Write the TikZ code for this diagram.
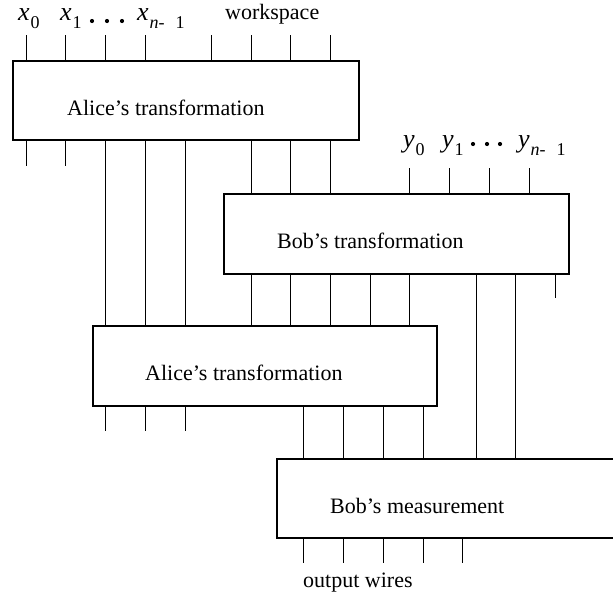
\documentclass[tikz,border=0pt]{standalone}
\usepackage{fontspec}
\setmainfont{Liberation Serif}
\newcommand\subs[1]{\raisebox{-8pt}{\fontsize{18}{18}\selectfont #1}}
\newcommand\var[1]{{\fontsize{26}{26}\selectfont\itshape #1}}
\begin{document}
\begin{tikzpicture}[x=1pt,y=-1pt,
  box/.style={draw, line width=2pt, rectangle, inner sep=0pt, anchor=north west},
  wire/.style={line width=1pt},
  lbl/.style={inner sep=0pt, anchor=base west, font=\fontsize{22}{26}\selectfont},
  dotmark/.style={fill, circle, inner sep=0pt, minimum size=4.2pt}]
\useasboundingbox (0,0) rectangle (613,595);
\clip (0,0) rectangle (613,595);
% boxes
\node[box, minimum width=346pt, minimum height=79pt] (A1) at (12,60) {};
\node[box, minimum width=345pt, minimum height=80pt] (B1) at (223,193) {};
\node[box, minimum width=344pt, minimum height=80pt] (A2) at (92,325) {};
\node[box, minimum width=350pt, minimum height=79pt] (M) at (276,458) {};
% box texts
\node[lbl] (tA1) at (67,115) {Alice's transformation};
\node[lbl] (tB1) at (277,248) {Bob's transformation};
\node[lbl] (tA2) at (145,380) {Alice's transformation};
\node[lbl] (tM) at (330,513) {Bob's measurement};
\node[lbl] (tout) at (303,587) {output wires};
% input labels
\node[lbl] (x0) at (18,20) {\var{x}\kern1pt\subs{0}};
\node[lbl] (x1) at (60,20) {\var{x}\kern1pt\subs{1}};
\node[lbl] (xn) at (137,20) {\var{x}\kern1pt\subs{\textit{n}-\hspace{11pt}1}};
\node[lbl] (ws) at (225,19) {workspace};
\node[dotmark] (xd1) at (92,21) {};
\node[dotmark] (xd2) at (107,21) {};
\node[dotmark] (xd3) at (122,21) {};
\node[lbl] (y0) at (403,147) {\var{y}\kern1pt\subs{0}};
\node[lbl] (y1) at (442,147) {\var{y}\kern1pt\subs{1}};
\node[lbl] (yn) at (518,147) {\var{y}\kern1pt\subs{\textit{n}-\hspace{11pt}1}};
\node[dotmark] (yd1) at (473,144) {};
\node[dotmark] (yd2) at (487,144) {};
\node[dotmark] (yd3) at (500,144) {};
% wires
\foreach \x in {26,65,105,145,211,251,290,330} \draw[wire] (\x,35) -- (A1.north -| \x,0);
\foreach \x in {26,65} \draw[wire] (A1.south -| \x,0) -- (\x,166);
\foreach \x in {105,145,185} \draw[wire] (A1.south -| \x,0) -- (A2.north -| \x,0);
\foreach \x in {251,290,330} \draw[wire] (A1.south -| \x,0) -- (B1.north -| \x,0);
\foreach \x in {409,449,489,529} \draw[wire] (\x,168) -- (B1.north -| \x,0);
\foreach \x in {251,290,330,370,409} \draw[wire] (B1.south -| \x,0) -- (A2.north -| \x,0);
\foreach \x in {476,515} \draw[wire] (B1.south -| \x,0) -- (M.north -| \x,0);
\draw[wire] (B1.south -| 555,0) -- (555,298);
\foreach \x in {105,145,185} \draw[wire] (A2.south -| \x,0) -- (\x,431);
\foreach \x in {303,343,383,423} \draw[wire] (A2.south -| \x,0) -- (M.north -| \x,0);
\foreach \x in {303,343,383,423,462} \draw[wire] (M.south -| \x,0) -- (\x,563);
\end{tikzpicture}
\end{document}
